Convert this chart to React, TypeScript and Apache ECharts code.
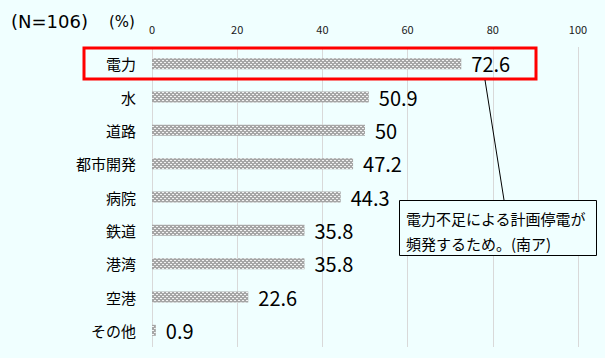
import React, { useEffect, useRef } from "react";
import * as echarts from "echarts";

const categories = ["電力", "水", "道路", "都市開発", "病院", "鉄道", "港湾", "空港", "その他"];
const values = [72.6, 50.9, 50, 47.2, 44.3, 35.8, 35.8, 22.6, 0.9];
const xTicks = [0, 20, 40, 60, 80, 100];
const noteLines = ["電力不足による計画停電が", "頻発するため。(南ア)"];

const FONT = '"Noto Sans CJK JP", "Noto Sans", sans-serif';
const LATIN = '"DejaVu Sans", "Noto Sans", sans-serif';

export default function App() {
  const ref = useRef<HTMLDivElement>(null);
  useEffect(() => {
    document.body.style.margin = "0";
    const chart = echarts.init(ref.current!, null, { renderer: "svg" });
    chart.setOption({
      animation: false,
      backgroundColor: "#f0ffff",
      textStyle: { fontFamily: FONT },
      grid: { left: 152, right: 27, top: 47, bottom: 11, containLabel: false },
      xAxis: {
        type: "value",
        position: "top",
        min: xTicks[0],
        max: xTicks[xTicks.length - 1],
        interval: 20,
        axisLine: { show: false },
        axisTick: { show: false },
        axisLabel: { fontSize: 11, color: "#1a1a1a", margin: 13, fontFamily: FONT },
        splitLine: { show: true, lineStyle: { color: "#d9d9d9", width: 1 } },
      },
      yAxis: {
        type: "category",
        data: categories,
        inverse: true,
        axisLine: { show: false },
        axisTick: { show: false },
        axisLabel: { fontSize: 15, color: "#000", margin: 16, fontFamily: FONT },
      },
      series: [
        {
          type: "bar",
          data: values,
          barWidth: 11,
          itemStyle: {
            color: "#a6a6a6",
            decal: {
              symbol: "rect",
              symbolSize: 1,
              color: "rgba(255,255,255,0.85)",
              dashArrayX: [[2, 2], [0, 2, 2, 0]],
              dashArrayY: [1, 1],
              rotation: 0,
            },
          },
          label: {
            show: true,
            position: "right",
            distance: 10,
            fontSize: 20,
            color: "#000",
            fontFamily: FONT,
          },
        },
      ],
      graphic: [
        {
          type: "text",
          left: 11,
          top: 12,
          style: { text: "(N=106)", fontSize: 18, fill: "#000", fontFamily: LATIN },
        },
        {
          type: "text",
          left: 109,
          top: 14,
          style: { text: "(%)", fontSize: 15, fill: "#000", fontFamily: LATIN },
        },
        {
          type: "rect",
          shape: { x: 84, y: 48, width: 452, height: 31 },
          style: { fill: "none", stroke: "#ff0000", lineWidth: 3 },
          z: 100,
        },
        {
          type: "line",
          shape: { x1: 485, y1: 80, x2: 504, y2: 200 },
          style: { stroke: "#000", lineWidth: 1 },
          z: 100,
        },
        {
          type: "rect",
          shape: { x: 399.5, y: 200.5, width: 197, height: 55 },
          style: { fill: "#f0ffff", stroke: "#000", lineWidth: 1 },
          z: 100,
        },
        {
          type: "text",
          x: 406,
          y: 206,
          z: 101,
          style: {
            text: noteLines.join("\n"),
            fontSize: 15,
            lineHeight: 25,
            fill: "#000",
            fontFamily: FONT,
          },
        },
      ],
    });
    return () => chart.dispose();
  }, []);
  return <div ref={ref} style={{ width: 605, height: 358 }} />;
}
